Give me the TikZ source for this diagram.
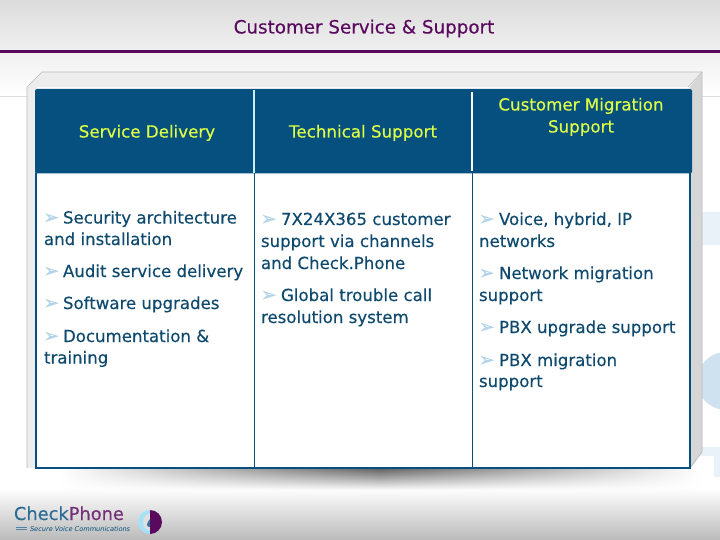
\documentclass[tikz,border=0pt]{standalone}
\usepackage{fontspec}
\setmainfont[FakeBold=0.35]{DejaVu Sans}
\newfontfamily\plainfont{DejaVu Sans}
\newfontfamily\arrowfont[FakeBold=1.2]{DejaVu Sans}
\usetikzlibrary{fadings}
\definecolor{navy}{HTML}{05507F}
\definecolor{inktext}{HTML}{0F4A6E}
\definecolor{plum}{HTML}{5A0A5E}
\definecolor{headyellow}{HTML}{DDFF45}
\definecolor{arrowblue}{HTML}{B4D5E9}
\definecolor{palea}{HTML}{E8F2F8}
\definecolor{paleb}{HTML}{CFE2EF}
\tikzset{
  every node/.style={inner sep=0pt,outer sep=0pt},
  titletext/.style={text=plum,font=\fontsize{18.3}{22}\selectfont,anchor=base},
  headtext/.style={text=headyellow,font=\fontsize{16.7}{20}\selectfont,anchor=base},
  itemtext/.style={text=inktext,font=\fontsize{16.6}{20}\selectfont,anchor=base west},
  arrowmark/.style={text=arrowblue,font=\arrowfont\fontsize{18.5}{22}\selectfont,anchor=base west},
  paleshape/.style={fill=#1,draw=none}
}
\newcommand{\bul}[2]{\node[arrowmark] at (#1,#2) {➢};}
\begin{document}
\begin{tikzpicture}[x=1pt,y=-1pt]
\useasboundingbox (0,0) rectangle (720,540);
% background
\fill[white] (0,0) rectangle (720,540);
\shade[top color=black!14,bottom color=black!6] (0,0) rectangle (720,50);
\shade[top color=black!6,bottom color=white] (0,50) rectangle (720,96);
\shade[top color=white,bottom color=black!27] (0,488) rectangle (720,540);
\draw[black!13,line width=.7pt] (0,96.5) -- (720,96.5);
% pale decorations at right
\fill[paleshape=palea,rounded corners=8pt] (696,212) -- (730,212) -- (730,245) -- (696,245) -- cycle;
\fill[paleshape=paleb] (726,381) circle[radius=29];
\fill[paleshape=palea] (690,447) -- (720,447) -- (720,477) -- (714,477) -- (714,456) -- (690,456) -- cycle;
% title
\node[titletext] (title) at (364,33.5) {Customer Service \& Support};
\fill[plum] (0,50) rectangle (720,52.6);
% 3D box
\fill[black!7] (27,87) -- (42,72) -- (702,72) -- (690,87) -- cycle;
\fill[black!7] (27,87) rectangle (37,468);
\fill[black!16] (702,72) -- (702,452) -- (690,468) -- (690,87) -- cycle;
\draw[black!27,line width=.7pt] (27,468) -- (27,87) -- (42,72) -- (702,72) -- (702,452) -- (690,468);
\draw[black!27,line width=.5pt] (702,72) -- (688,87);
% shadow
\shade[left color=white,right color=white,middle color=black!60,path fading=south] (60,469) rectangle (700,490);
% table
\node[draw=none,fill=white,minimum width=654pt,minimum height=295pt,anchor=north west] (body) at (36,173) {};
\draw[navy,line width=1.8pt] (36,173) -- (36,468) -- (690,468) -- (690,173);
\draw[navy,line width=.9pt] (254.5,173) -- (254.5,468);
\draw[navy,line width=.9pt] (472.5,173) -- (472.5,468);
\fill[navy,rounded corners=2pt] (35,89) rectangle (692,173.5);
\draw[black!5!cyan!20,line width=1.2pt] (254,90) -- (254,173);
\draw[white,line width=1.2pt] (472,92) -- (472,171);
% headers
\node[headtext] (h1) at (147,137.5) {Service Delivery};
\node[headtext] (h2) at (363,137.5) {Technical Support};
\node[headtext] (h3a) at (581,110.5) {Customer Migration};
\node[headtext] (h3b) at (581,132.5) {Support};
% column 1
\bul{43.5}{223.5}
\node[itemtext] (a1) at (63,223.5) {Security architecture};
\node[itemtext] (a2) at (44,245) {and installation};
\bul{43.5}{277}
\node[itemtext] (a3) at (63,277) {Audit service delivery};
\bul{43.5}{309}
\node[itemtext] (a4) at (63,309) {Software upgrades};
\bul{43.5}{342}
\node[itemtext] (a5) at (63,342) {Documentation \&};
\node[itemtext] (a6) at (44,363.5) {training};
% column 2
\bul{261}{225}
\node[itemtext] (b1) at (281,225) {7X24X365 customer};
\node[itemtext] (b2) at (261,247) {support via channels};
\node[itemtext] (b3) at (261,269) {and Check.Phone};
\bul{261}{301}
\node[itemtext] (b4) at (281,301) {Global trouble call};
\node[itemtext] (b5) at (261,323) {resolution system};
% column 3
\bul{479}{225}
\node[itemtext] (c1) at (499,225) {Voice, hybrid, IP};
\node[itemtext] (c2) at (479,247) {networks};
\bul{479}{279}
\node[itemtext] (c3) at (499,279) {Network migration};
\node[itemtext] (c4) at (479,301) {support};
\bul{479}{333}
\node[itemtext] (c5) at (499,333) {PBX upgrade support};
\bul{479}{366}
\node[itemtext] (c6) at (499,366) {PBX migration};
\node[itemtext] (c7) at (479,387) {support};
% logo
\node[anchor=base west,font=\fontsize{17.8}{20}\selectfont] (logo) at (14,520) {\textcolor{navy!85}{Check}\textcolor{plum!85}{Phone}};
\node[anchor=base west,font=\plainfont\fontsize{6.6}{8}\itshape\selectfont,text=navy] (logosub) at (30,531) {Secure Voice Communications};
\draw[navy!70,line width=.5pt] (16,527) -- (27,527) (16,529) -- (27,529);
\fill[black!4!cyan!35] (150,510) arc[start angle=-90,end angle=-270,radius=12] -- cycle;
\fill[black!12] (152,513) arc[start angle=-90,end angle=-270,radius=9] -- cycle;
\fill[plum] (150,510) arc[start angle=-90,end angle=90,radius=12] -- cycle;
\fill[navy!80] (150,519) .. controls (146,524) and (146,527) .. (150,527) -- cycle;
\end{tikzpicture}
\end{document}
